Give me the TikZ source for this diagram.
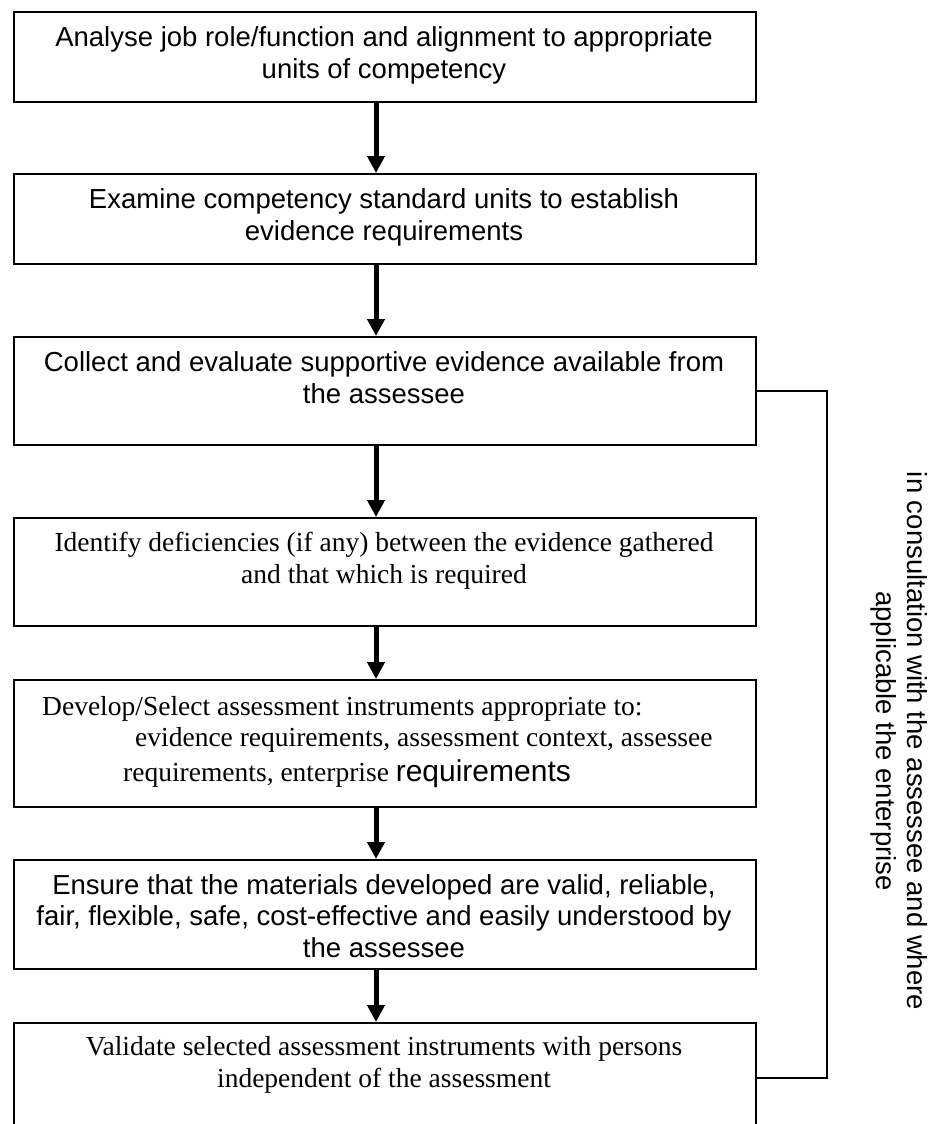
\documentclass[tikz,border=0pt]{standalone}
\usepackage{fontspec}
\setmainfont{Liberation Serif}
\newfontfamily\arialf{Liberation Sans}
\usetikzlibrary{arrows.meta}

\begin{document}
\begin{tikzpicture}[x=1pt,y=-1pt,
  stepbox/.style={draw, line width=2pt, inner sep=0pt, anchor=north west,
    minimum width=742pt},
  % multi-line texts are placed by the baseline of their last line
  sanstext/.style={anchor=base, align=center, inner sep=0pt,
    font=\arialf\fontsize{27.5}{31.5}\selectfont},
  seriftext/.style={anchor=base, align=center, inner sep=0pt,
    font=\fontsize{27.5}{31.5}\selectfont},
  lefttext/.style={anchor=base west, inner sep=0pt,
    font=\fontsize{27.5}{31.5}\selectfont},
  flowarrow/.style={line width=5pt, -{Triangle[width=17pt,length=17pt]}},
  loopline/.style={line width=2pt}]
\useasboundingbox (0,0) rectangle (934,1124);

% boxes
\node[stepbox, minimum height=90pt]  (b1) at (13,11)   {};
\node[stepbox, minimum height=90pt]  (b2) at (13,173)  {};
\node[stepbox, minimum height=108pt] (b3) at (13,336)  {};
\node[stepbox, minimum height=108pt] (b4) at (13,517)  {};
\node[stepbox, minimum height=127pt] (b5) at (13,679)  {};
\node[stepbox, minimum height=109pt] (b6) at (13,859)  {};
\node[stepbox, minimum height=109pt] (b7) at (13,1022) {};

% box texts
\node[sanstext] (t1) at (384,78) {Analyse job role/function and alignment to appropriate\\units of competency};
\node[sanstext] (t2) at (384,240) {Examine competency standard units to establish\\evidence requirements};
\node[sanstext] (t3) at (384,403) {Collect and evaluate supportive evidence available from\\the assessee};
\node[seriftext] (t4) at (384,583) {Identify deficiencies (if any) between the evidence gathered\\and that which is required};
\node[lefttext] (t5a) at (42,715) {Develop/Select assessment instruments appropriate to:};
\node[lefttext] (t5b) at (135,746) {evidence requirements, assessment context, assessee};
\node[lefttext] (t5c) at (123,781) {requirements, enterprise {\arialf\fontsize{30}{34}\selectfont requirements}};
\node[sanstext] (t6) at (384,957) {Ensure that the materials developed are valid, reliable,\\fair, flexible, safe, cost-effective and easily understood by\\the assessee};
\node[seriftext] (t7) at (384,1087) {Validate selected assessment instruments with persons\\independent of the assessment};

% arrows between steps
\coordinate (ax) at (376,0);
\draw[flowarrow] (b1.south -| ax) -- (b2.north -| ax);
\draw[flowarrow] (b2.south -| ax) -- (b3.north -| ax);
\draw[flowarrow] (b3.south -| ax) -- (b4.north -| ax);
\draw[flowarrow] (b4.south -| ax) -- (b5.north -| ax);
\draw[flowarrow] (b5.south -| ax) -- (b6.north -| ax);
\draw[flowarrow] (b6.south -| ax) -- (b7.north -| ax);

% consultation bracket
\coordinate (lx) at (827,0);
\draw[loopline] (b3.east) -- (b3.east -| lx) -- (b7.east -| lx) -- (b7.east);
\node[anchor=base, rotate=-90, align=center, inner sep=0pt,
  font=\arialf\fontsize{27.5}{31.5}\selectfont] (note) at (876,741)
  {in consultation with the assessee and where\\applicable the enterprise};
\end{tikzpicture}
\end{document}
